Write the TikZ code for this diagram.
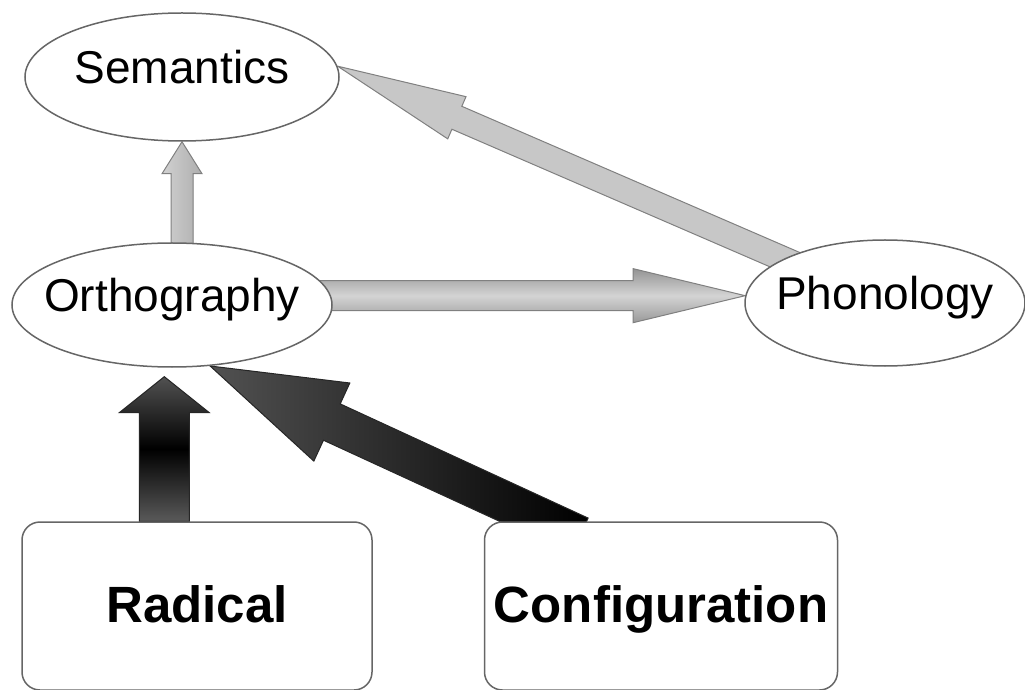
\documentclass[tikz,border=0pt]{standalone}
\usepackage{fontspec}
\setmainfont{Liberation Sans}
\usetikzlibrary{shapes.geometric,calc,backgrounds}

\tikzset{
  stage/.style={ellipse, draw=black!60, line width=1.5pt, fill=white,
    inner xsep=-40pt, inner ysep=0pt, text height=33pt, text depth=20pt,
    font=\fontsize{46}{50}\selectfont},
  factor/.style={rectangle, rounded corners=18pt, draw=black!60, line width=1.5pt,
    fill=white, minimum width=350pt, minimum height=168pt,
    text height=37pt, text depth=4pt, font=\fontsize{51}{55}\selectfont\bfseries},
  lightarrow/.style={draw=black!50, line width=1pt, fill=black!22},
  midarrow/.style={draw=black!50, line width=1pt,
    top color=black!42, bottom color=black!40, middle color=black!17},
  darkarrow/.style={draw=black!85, line width=1pt}
}

\begin{document}
\begin{tikzpicture}[x=1pt, y=1pt]
  \useasboundingbox (0,0) rectangle (1025,689);

  % Define a fat arrow: style, from, to, shaft, head, head length
  \def\fatarrow#1#2#3#4#5#6{%
    \path[#1] let \p1=(#2), \p2=(#3),
        \n1={atan2(\y2-\y1,\x2-\x1)}, \n2={veclen(\x2-\x1,\y2-\y1)} in
      [shift={(\p1)}, rotate=\n1]
      (0pt,-#4) -- (\n2-#6,-#4) -- (\n2-#6,-#5) -- (\n2,0pt)
      -- (\n2-#6,#5) -- (\n2-#6,#4) -- (0pt,#4) -- cycle;}

  % Ellipses
  \node[stage, minimum width=314pt, minimum height=128pt] (sem) at (182,612) {Semantics};
  \node[stage, minimum width=320pt, minimum height=124pt] (ortho) at (172,384) {Orthography};
  \node[stage, minimum width=280pt, minimum height=126pt] (phon) at (885,386) {Phonology};

  % Boxes
  \node[factor] (rad) at (197,83) {Radical};
  \node[factor, minimum width=353pt] (conf) at (661,83) {Configuration};

  \coordinate (radtip) at ($(ortho.263)+(0,-9)$);
  \coordinate (conftail) at ($(conf.north west)+(96,-15)$);

  % Arrows under the shapes
  \begin{scope}[on background layer]
    \fatarrow{lightarrow, left color=black!18, right color=black!32}{sem.south |- ortho.center}{sem.south}{11pt}{20pt}{32pt}
    \fatarrow{midarrow}{ortho.center |- phon.177}{phon.177}{15pt}{27pt}{112pt}
    \fatarrow{lightarrow}{phon.center}{sem.4}{12.5pt}{23pt}{130pt}
    \fatarrow{darkarrow, top color=black!68, bottom color=black!65, middle color=black}{rad.north -| radtip}{radtip}{25pt}{45pt}{36pt}
    \fatarrow{darkarrow, left color=black!68, right color=black}{conftail}{ortho.302}{20pt}{43pt}{134pt}
  \end{scope}
\end{tikzpicture}
\end{document}
